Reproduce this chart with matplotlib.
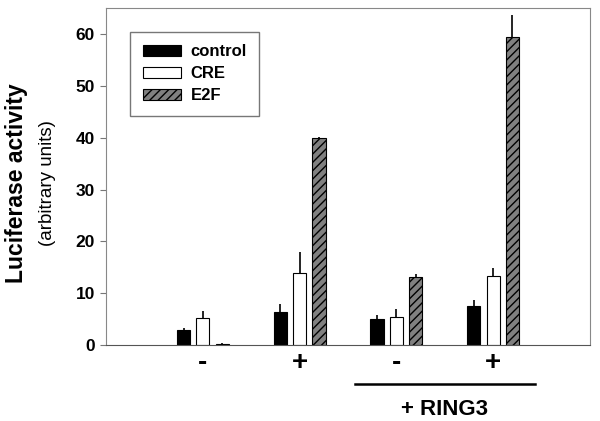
import matplotlib.pyplot as plt
import numpy as np

plt.rcParams['font.family'] = ['Liberation Sans', 'DejaVu Sans']
plt.rcParams['hatch.linewidth'] = 1.0

# data
groups = ["-", "+", "-", "+"]
series = ["control", "CRE", "E2F"]
control = [2.9, 6.4, 5.0, 7.5]
control_err = [0.5, 1.6, 0.9, 1.2]
cre = [5.3, 14.0, 5.5, 13.3]
cre_err = [1.3, 4.0, 1.4, 1.6]
e2f = [0.3, 40.0, 13.2, 59.5]
e2f_err = [0.1, 0.2, 0.6, 4.2]

fig = plt.figure(figsize=(6, 4.21), dpi=100)
ax = fig.add_axes([0.177, 0.18, 0.806, 0.801])

x = np.arange(1, len(groups) + 1)
w = 0.135
off = 0.2

def _bar(pos, vals, errs, **kw):
    ax.bar(pos, vals, w, edgecolor="black", linewidth=0.8, zorder=2, **kw)
    ax.errorbar(pos, vals, yerr=[np.zeros(len(vals)), errs], fmt="none",
                ecolor="black", elinewidth=1.2, capsize=0, zorder=1)

_bar(x - off, control, control_err, color="black", label="control")
_bar(x, cre, cre_err, color="white", label="CRE")
_bar(x + off, e2f, e2f_err, color="#808080", hatch="////", label="E2F")

ax.set_xlim(0, 5)
ax.set_ylim(0, 65)
ax.set_yticks([0, 10, 20, 30, 40, 50, 60])
ax.set_xticks([])
ax.tick_params(axis="y", labelsize=12.5, direction="out", length=4,
               color="#777777", pad=4)
for lbl in ax.get_yticklabels():
    lbl.set_fontweight("bold")
for spine in ax.spines.values():
    spine.set_edgecolor("#888888")
ax.spines["bottom"].set_edgecolor("#555555")

# group labels under axis
for xi, g in zip(x, groups):
    ax.text(xi, -3.5, g, ha="center", va="center", fontsize=20,
            fontweight="bold", clip_on=False)

ax.plot([2.57, 4.43], [-7.4, -7.4], color="black", linewidth=1.8,
        clip_on=False)
ax.text(3.5, -12.3, "+ RING3", ha="center", va="center", fontsize=16,
        fontweight="bold", clip_on=False)

fig.text(0.028, 0.564, "Luciferase activity", rotation=90, ha="center",
         va="center", fontsize=16.5, fontweight="bold")
fig.text(0.079, 0.566, "(arbitrary units)", rotation=90, ha="center",
         va="center", fontsize=13.5)

leg = ax.legend(loc="upper left", bbox_to_anchor=(0.05, 0.929), fontsize=12,
                frameon=True, fancybox=False, edgecolor="#555555",
                borderaxespad=0, handlelength=2.3, handleheight=0.6,
                handletextpad=0.55, borderpad=0.75, labelspacing=0.42)
leg.get_frame().set_linewidth(1.0)
for t in leg.get_texts():
    t.set_fontweight("bold")

fig.savefig("out.png", dpi=100)
